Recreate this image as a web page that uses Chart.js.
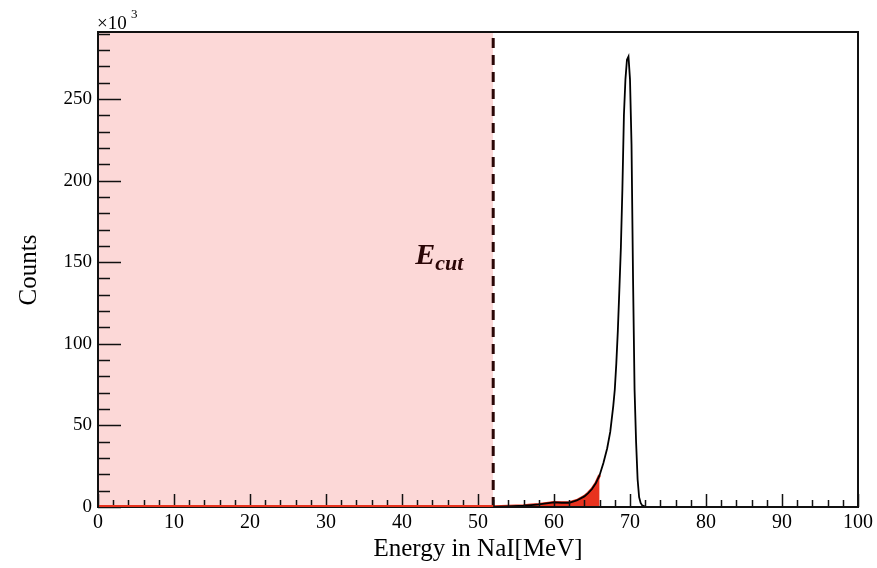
<!DOCTYPE html>
<html>
<head>
<meta charset="utf-8">
<script src="https://cdn.jsdelivr.net/npm/chart.js@4.4.1/dist/chart.umd.min.js"></script>
<style>
  html, body { margin: 0; padding: 0; background: #fff; }
  #c { display: block; }
</style>
</head>
<body>
<canvas id="c" width="877" height="568"></canvas>
<script>
// energy in NaI [MeV] and counts (in units of 10^3)
var energy = [0, 50, 52, 54, 56, 57, 58, 59, 60, 61, 62, 63, 64, 64.5, 65, 65.5, 66,
    66.5, 67, 67.4, 67.8, 68.0, 68.2, 68.4, 68.6, 68.8, 69.0, 69.2, 69.4, 69.6, 69.8,
    70.0, 70.2, 70.4, 70.6, 70.8, 71.0, 71.2, 71.4, 71.6, 72.0, 73, 100];
var counts = [0, 0, 0.1, 0.4, 0.8, 1.2, 1.6, 2.2, 2.8, 2.6, 2.6, 4.0, 6.5, 8.5, 11, 14.5, 19.5,
    27, 36, 46, 62, 72, 88, 108, 133, 159, 195, 240, 262, 274, 276,
    262, 222, 140, 72, 40, 17, 6, 2.5, 1.0, 0.2, 0, 0];

var eCut = 52;        // cut energy, dashed line
var redEnd = 66;      // red filled part of the spectrum ends here
var xMin = 0, xMax = 100;
var yMin = 0, yMax = 291;
var xMajor = [0, 10, 20, 30, 40, 50, 60, 70, 80, 90, 100];
var yMajor = [0, 50, 100, 150, 200, 250];

var spectrum = [];
var redPart = [];
for (var i = 0; i < energy.length; i++) {
    spectrum.push({ x: energy[i], y: counts[i] });
    if (energy[i] <= redEnd) redPart.push({ x: energy[i], y: counts[i] });
}

var serif = '"Liberation Serif", "DejaVu Serif", serif';

// ROOT style frame, inner ticks, titles and labels
var rootStyle = {
    id: 'rootStyle',
    afterDatasetsDraw: function(chart) {
        var ctx = chart.ctx;
        var a = chart.chartArea;
        var xs = chart.scales.x, ys = chart.scales.y;
        ctx.save();
        ctx.strokeStyle = '#111';
        ctx.lineWidth = 1.5;
        ctx.beginPath();
        for (var v = xMin; v <= xMax; v += 2) {
            var px = Math.round(xs.getPixelForValue(v)) + 0.5;
            var len = (v % 10 === 0) ? 13 : 7;
            ctx.moveTo(px, a.bottom);
            ctx.lineTo(px, a.bottom - len);
        }
        for (var w = yMin; w <= yMax; w += 10) {
            var py = Math.round(ys.getPixelForValue(w)) + 0.5;
            var l2 = (w % 50 === 0) ? 23 : 12;
            ctx.moveTo(a.left, py);
            ctx.lineTo(a.left + l2, py);
        }
        ctx.stroke();

        ctx.lineWidth = 2;
        ctx.strokeRect(a.left, a.top, a.right - a.left, a.bottom - a.top);

        // red line along the bottom under the red part
        ctx.strokeStyle = '#e8321e';
        ctx.lineWidth = 2;
        ctx.beginPath();
        ctx.moveTo(a.left + 1, a.bottom - 1);
        ctx.lineTo(xs.getPixelForValue(eCut), a.bottom - 1);
        ctx.stroke();

        // E_cut label
        var xc = xs.getPixelForValue(eCut);
        var yc = ys.getPixelForValue(145);
        ctx.fillStyle = '#2a0606';
        ctx.textBaseline = 'alphabetic';
        ctx.font = 'italic bold 30px ' + serif;
        ctx.fillText('E', xc - 78, yc - 6);
        ctx.font = 'italic bold 22px ' + serif;
        ctx.fillText('cut', xc - 58, yc);

        // exponent
        ctx.fillStyle = '#000';
        ctx.font = '19px ' + serif;
        ctx.fillText('\u00d710', a.left - 1, a.top - 3);
        ctx.font = '13px ' + serif;
        ctx.fillText('3', a.left + 33, a.top - 14);

        // axis titles
        ctx.font = '25px ' + serif;
        ctx.textAlign = 'center';
        ctx.textBaseline = 'middle';
        ctx.fillText('Energy in NaI[MeV]', 478, 549);
        ctx.translate(29, 270);
        ctx.rotate(-Math.PI / 2);
        ctx.fillText('Counts', 0, 0);
        ctx.restore();
    }
};

var ctx = document.getElementById('c');
var chart = new Chart(ctx, {
    type: 'line',
    data: {
        datasets: [
            {
                label: 'rejected region',
                data: [{ x: xMin, y: yMax }, { x: eCut, y: yMax }],
                borderWidth: 0,
                pointRadius: 0,
                backgroundColor: '#fcd8d7',
                fill: 'origin',
                order: 5
            },
            {
                label: 'below cut',
                data: redPart,
                borderColor: '#e8321e',
                borderWidth: 3,
                pointRadius: 0,
                backgroundColor: '#e8321e',
                fill: 'origin',
                order: 4
            },
            {
                label: 'spectrum',
                data: spectrum,
                borderColor: '#000',
                borderWidth: 1.8,
                pointRadius: 0,
                fill: false,
                order: 3
            },
            {
                label: 'E cut',
                data: [{ x: eCut, y: yMin }, { x: eCut, y: yMax }],
                borderColor: '#2a0606',
                borderWidth: 3,
                borderDash: [10, 7],
                pointRadius: 0,
                fill: false,
                order: 1
            }
        ]
    },
    options: {
        responsive: false,
        animation: false,
        layout: { padding: { left: 0, right: 19, top: 32, bottom: 0 } },
        plugins: {
            legend: { display: false },
            tooltip: { enabled: false }
        },
        scales: {
            x: {
                type: 'linear',
                min: xMin,
                max: xMax,
                afterFit: function(s) { s.height = 61; },
                afterBuildTicks: function(s) {
                    s.ticks = xMajor.map(function(v) { return { value: v }; });
                },
                grid: { display: false, drawTicks: false },
                border: { display: false },
                ticks: {
                    color: '#000',
                    padding: 4,
                    maxRotation: 0,
                    font: { family: serif, size: 20 }
                }
            },
            y: {
                type: 'linear',
                min: yMin,
                max: yMax,
                afterFit: function(s) { s.width = 98; },
                afterBuildTicks: function(s) {
                    s.ticks = yMajor.map(function(v) { return { value: v }; });
                },
                grid: { display: false, drawTicks: false },
                border: { display: false },
                ticks: {
                    color: '#000',
                    padding: 6,
                    font: { family: serif, size: 19 }
                }
            }
        }
    },
    plugins: [rootStyle]
});
</script>
</body>
</html>
